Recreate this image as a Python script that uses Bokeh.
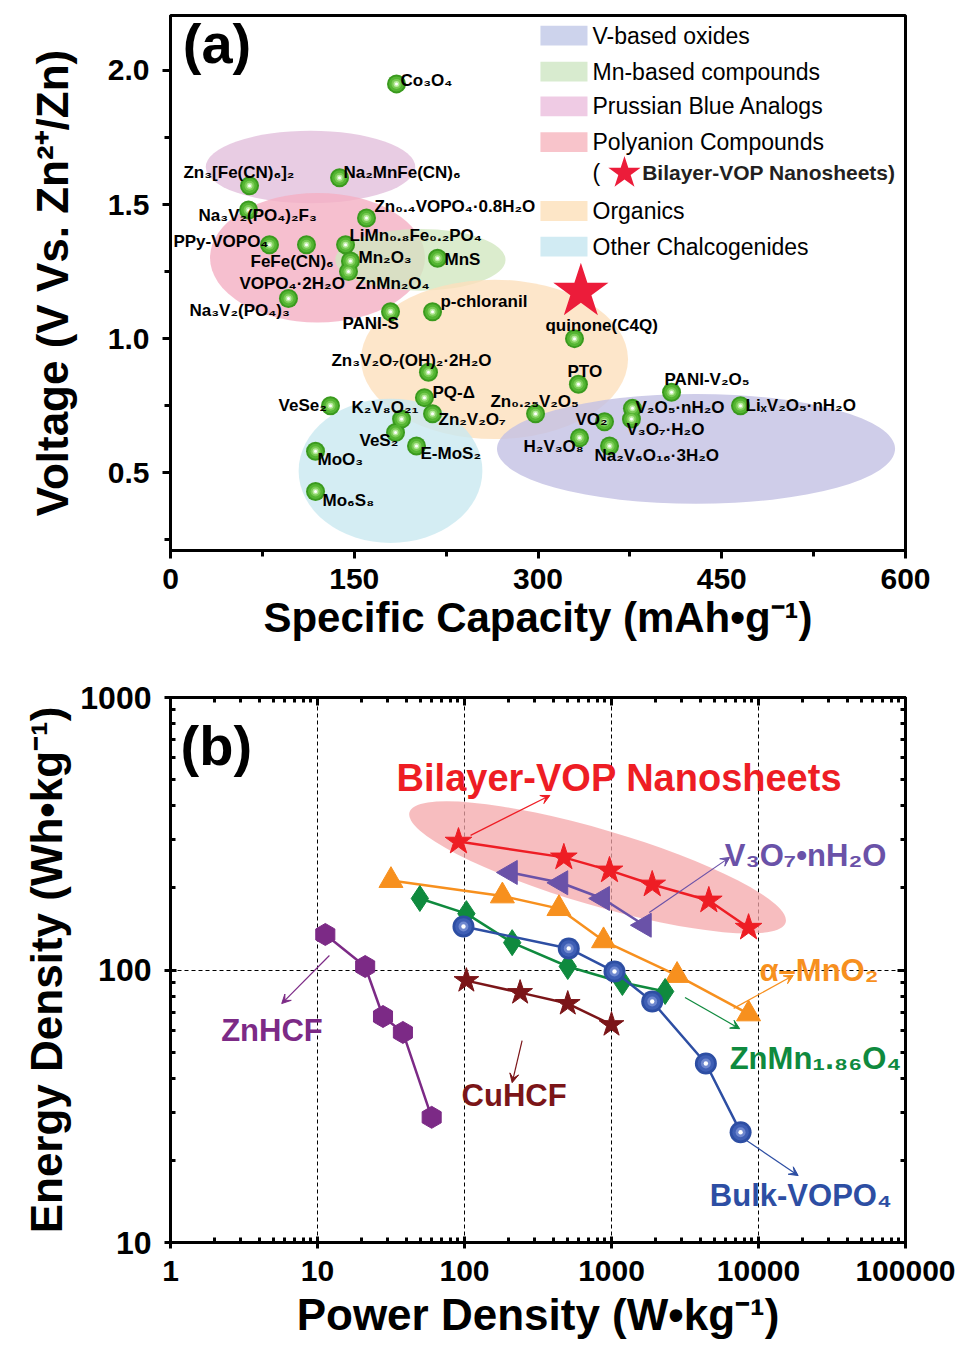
import math
from bokeh.plotting import figure
from bokeh.layouts import column
from bokeh.models import (ColumnDataSource, SingleIntervalTicker, NumeralTickFormatter,
                          LogAxis, FixedTicker, Arrow, VeeHead)
from bokeh.core.properties import value
from bokeh.embed import file_html
from bokeh.resources import INLINE

FB = "Liberation Sans"

# ---------------- Panel (a) data ----------------
cap_mAh_g = [184.5, 64.5, 138, 63.7, 160, 80.8, 111, 142.9, 146.9, 145.3, 218, 96.3, 179.6,
             213.9, 329.8, 210.6, 333, 207.3, 130.6, 188.6, 213.9, 298, 183.7, 200.8, 118.4,
             118.4, 354.3, 333.9, 358.4, 377.1, 376.3, 409, 465.3]
voltage_V = [1.95, 1.57, 1.60, 1.48, 1.45, 1.35, 1.35, 1.35, 1.29, 1.25, 1.30, 1.15, 1.10,
             1.10, 1.00, 0.875, 0.83, 0.78, 0.75, 0.70, 0.72, 0.72, 0.65, 0.60, 0.58,
             0.43, 0.69, 0.63, 0.60, 0.74, 0.70, 0.80, 0.75]
bilayer_cap = [335]
bilayer_volt = [1.175]

label_text = ["Co₃O₄", "Zn₃[Fe(CN)₆]₂", "Na₂MnFe(CN)₆", "Na₃V₂(PO₄)₂F₃",
              "Zn₀.₄VOPO₄·0.8H₂O", "PPy-VOPO₄", "LiMn₀.₈Fe₀.₂PO₄", "FeFe(CN)₆", "Mn₂O₃",
              "MnS", "VOPO₄·2H₂O", "ZnMn₂O₄", "Na₃V₂(PO₄)₃", "p-chloranil", "PANI-S",
              "quinone(C4Q)", "Zn₃V₂O₇(OH)₂·2H₂O", "PTO", "PQ-Δ", "VeSe₂", "K₂V₈O₂₁",
              "Zn₂V₂O₇", "Zn₀.₂₅V₂O₅", "VeS₂", "E-MoS₂", "MoO₃", "Mo₆S₈", "VO₂", "H₂V₃O₈",
              "Na₂V₆O₁₆·3H₂O", "V₂O₅·nH₂O", "V₃O₇·H₂O", "PANI-V₂O₅", "LiₓV₂O₅·nH₂O"]
label_x = [187.8, 10.6, 141.2, 22.9, 166.5, 2.4, 146.1, 65.3, 153.5, 223.7, 56.3, 151, 15.5,
           220.4, 140.4, 306.1, 131.4, 324.1, 213.9, 88.2, 147.8, 218.8, 261.2, 154.3,
           204.1, 120, 124.1, 330.6, 288.2, 346.1, 379.6, 372.2, 403.3, 469.4]
label_y = [1.963, 1.621, 1.621, 1.458, 1.491, 1.361, 1.384, 1.287, 1.302, 1.294, 1.205,
           1.205, 1.105, 1.139, 1.057, 1.049, 0.919, 0.879, 0.801, 0.749, 0.745, 0.697,
           0.767, 0.622, 0.570, 0.548, 0.396, 0.697, 0.596, 0.563, 0.745, 0.663, 0.849,
           0.749]

region_names = ["Prussian Blue Analogs", "Polyanion Compounds", "Mn-based compounds",
                "Organics", "Other Chalcogenides", "V-based oxides"]
region_cap = [114.3, 120, 204, 264.5, 179.6, 429]
region_volt = [1.64, 1.302, 1.294, 0.923, 0.507, 0.589]
region_cap_w = [171, 175.5, 139, 218, 150, 325]
region_volt_h = [0.27, 0.483, 0.23, 0.594, 0.538, 0.41]
region_fill = ["#e2bfdc", "#f4afc3", "#d2e7c0", "#fce0bd", "#c9e8f0", "#c3c1e4"]

legend_names = ["V-based oxides", "Mn-based compounds", "Prussian Blue Analogs",
                "Polyanion Compounds", "Organics", "Other Chalcogenides"]
legend_fill = ["#cdd3ec", "#d8ebcf", "#efcbe4", "#f8c4cb", "#fde6c7", "#d1ebf3"]
legend_row_y = [2.130, 1.996, 1.866, 1.733, 1.476, 1.343]

# ---------------- Panel (b) data ----------------
vop_P = [91, 474, 969, 1892, 4592, 8560]
vop_E = [296, 259, 232, 206, 180, 143]
v3o7_P = [205, 452, 869, 1671]
v3o7_E = [228, 209, 183, 146]
mno2_P = [31.6, 181, 439, 883, 2793, 8560]
mno2_E = [213, 187, 168, 128, 95.5, 69]
znmn_P = [49.7, 103, 211, 504, 1186, 2317]
znmn_E = [183, 161, 126, 103, 90, 83.4]
bulk_P = [98.4, 512, 1048, 1892, 4385, 7555]
bulk_E = [144.5, 120, 98.7, 76.6, 45.4, 25.4]
cuhcf_P = [103, 239, 504, 1000]
cuhcf_E = [91.4, 82.6, 75.3, 63]
znhcf_P = [11.3, 21.1, 27.9, 38.1, 59.8]
znhcf_E = [135, 103, 67.5, 59, 28.8]

x_major = [1, 10, 100, 1000, 10000, 100000]
y_major = [10, 100, 1000]

def minors(decades):
    return [m * d for d in decades[:-1] for m in range(2, 10)]

# ================= Panel (a) =================
p1 = figure(width=968, height=670, x_range=(0, 600), y_range=(0.21, 2.205),
            output_backend="svg", toolbar_location=None,
            min_border_left=167, min_border_right=63, min_border_top=15,
            min_border_bottom=120)
p1.xgrid.visible = False
p1.ygrid.visible = False
p1.outline_line_color = "black"
p1.outline_line_width = 3
p1.outline_line_alpha = 1

p1.xaxis.ticker = SingleIntervalTicker(interval=150, num_minor_ticks=2)
p1.yaxis.ticker = SingleIntervalTicker(interval=0.5, num_minor_ticks=2)
p1.yaxis.formatter = NumeralTickFormatter(format="0.0")
p1.xaxis.axis_label = "Specific Capacity (mAh•g⁻¹)"
p1.yaxis.axis_label = "Voltage (V Vs. Zn²⁺/Zn)"
for ax in (p1.xaxis[0], p1.yaxis[0]):
    ax.axis_line_width = 3
    ax.major_tick_line_width = 3
    ax.minor_tick_line_width = 3
    ax.major_tick_out = 8
    ax.major_tick_in = 0
    ax.minor_tick_out = 6
    ax.minor_tick_in = 0
    ax.major_label_text_font = FB
    ax.major_label_text_font_style = "bold"
    ax.major_label_text_color = "black"
    ax.axis_label_text_font = FB
    ax.axis_label_text_font_style = "bold"
    ax.axis_label_text_color = "black"
p1.xaxis.major_label_text_font_size = "30px"
p1.xaxis.axis_label_text_font_size = "42px"
p1.xaxis.major_label_standoff = 10
p1.xaxis.axis_label_standoff = 2
p1.yaxis.major_label_text_font_size = "30px"
p1.yaxis.axis_label_text_font_size = "44px"
p1.yaxis.major_label_standoff = 13
p1.yaxis.axis_label_standoff = 28

rsrc = ColumnDataSource(dict(x=region_cap, y=region_volt, w=region_cap_w,
                             h=region_volt_h, c=region_fill, n=region_names))
p1.ellipse(x="x", y="y", width="w", height="h", fill_color="c", fill_alpha=0.8,
           line_color=None, source=rsrc)

pts = ColumnDataSource(dict(x=cap_mAh_g, y=voltage_V))
for s, col in [(19, "#3a9a1e"), (15, "#54b532"), (10, "#7acb55"), (6, "#b8eb9e"), (3, "#ffffff")]:
    p1.scatter(x="x", y="y", size=s, fill_color=col, line_color=None, source=pts)

p1.scatter(x=bilayer_cap, y=bilayer_volt, marker="star", size=58, fill_color="#ec1c3a",
           line_color=None)

p1.text(x=label_x, y=label_y, text=label_text, text_font=value(FB), text_font_style="bold",
        text_font_size="17px", text_baseline="middle", text_align="left", text_color="black")

sw_x = [321.2] * len(legend_names)
p1.rect(x=sw_x, y=legend_row_y, width=38.4, height=0.074, fill_color=legend_fill,
        line_color=None)
p1.text(x=[344.5] * len(legend_names), y=legend_row_y, text=legend_names,
        text_font=value(FB), text_font_size="23px", text_baseline="middle",
        text_color="black")
p1.text(x=[344.5], y=[1.618], text=["("], text_font=value(FB), text_font_size="23px",
        text_baseline="middle", text_color="black")
p1.scatter(x=[370.6], y=[1.618], marker="star", size=34, fill_color="#ec1c3a", line_color=None)
p1.text(x=[385.0], y=[1.618], text=["Bilayer-VOP Nanosheets)"], text_font=value(FB),
        text_font_style="bold", text_font_size="21px", text_baseline="middle",
        text_color="#231f20")
p1.text(x=[10], y=[2.1], text=["(a)"], text_font=value(FB), text_font_style="bold",
        text_font_size="56px", text_baseline="middle", text_color="black")

# ================= Panel (b) =================
p2 = figure(width=968, height=684, x_axis_type="log", y_axis_type="log",
            x_range=(1, 1e5), y_range=(10, 1000), output_backend="svg",
            toolbar_location=None, min_border_left=170, min_border_right=58,
            min_border_top=27, min_border_bottom=112)
p2.outline_line_color = "black"
p2.outline_line_width = 3
p2.outline_line_alpha = 1
p2.xgrid.ticker = FixedTicker(ticks=[10, 100, 1000, 10000])
p2.ygrid.ticker = FixedTicker(ticks=[100])
for g in (p2.xgrid[0], p2.ygrid[0]):
    g.grid_line_color = "black"
    g.grid_line_dash = "4 3"
    g.grid_line_width = 1
    g.grid_line_alpha = 1
    g.minor_grid_line_color = None

p2.xaxis.axis_label = "Power Density (W•kg⁻¹)"
p2.yaxis.axis_label = "Energy Density (Wh•kg⁻¹)"
p2.xaxis.ticker = FixedTicker(ticks=x_major, minor_ticks=minors(x_major))
p2.yaxis.ticker = FixedTicker(ticks=y_major, minor_ticks=minors(y_major))
p2.xaxis.formatter = NumeralTickFormatter(format="0")
p2.yaxis.formatter = NumeralTickFormatter(format="0")
for ax in (p2.xaxis[0], p2.yaxis[0]):
    ax.axis_line_width = 3
    ax.major_tick_line_width = 3
    ax.minor_tick_line_width = 3
    ax.major_tick_out = 6
    ax.major_tick_in = 6
    ax.minor_tick_out = 0
    ax.minor_tick_in = 5
    ax.major_label_text_font = FB
    ax.major_label_text_font_style = "bold"
    ax.major_label_text_color = "black"
    ax.axis_label_text_font = FB
    ax.axis_label_text_font_style = "bold"
    ax.axis_label_text_color = "black"
    ax.axis_label_text_font_size = "44px"
p2.xaxis.major_label_text_font_size = "30px"
p2.xaxis.major_label_standoff = 12
p2.xaxis.axis_label_standoff = 6
p2.yaxis.major_label_text_font_size = "32px"
p2.yaxis.major_label_standoff = 13
p2.yaxis.axis_label_standoff = 6

for loc, maj in (("above", x_major), ("right", y_major)):
    ax = LogAxis(ticker=FixedTicker(ticks=maj, minor_ticks=minors(maj)),
                 major_label_text_font_size="0px",
                 major_label_standoff=0, axis_line_width=3, major_tick_line_width=3,
                 minor_tick_line_width=3, major_tick_out=0, major_tick_in=8,
                 minor_tick_out=0, minor_tick_in=5)
    ax.major_label_text_color = None
    p2.add_layout(ax, loc)

p2.ellipse(x=[804], y=[238], width=392, height=76, angle=-0.285, width_units="screen",
           height_units="screen", fill_color="#f4a7aa", fill_alpha=0.75, line_color=None)

def series(P, E, color, marker, size, angle=0.0, sphere=False):
    p2.line(P, E, line_color=color, line_width=2.5)
    if sphere:
        for s, col in [(size, color), (size * 0.75, "#3f5fb5"), (size * 0.45, "#6f88cf"),
                       (size * 0.2, "#ffffff")]:
            p2.scatter(P, E, size=s, fill_color=col, line_color=None)
    else:
        p2.scatter(P, E, marker=marker, size=size, angle=angle, fill_color=color,
                   line_color=color)

series(mno2_P, mno2_E, "#f7901e", "triangle", 24)
series(znmn_P, znmn_E, "#0f8a3e", "diamond", 26)
series(bulk_P, bulk_E, "#2d4ea3", "circle", 22, sphere=True)
series(cuhcf_P, cuhcf_E, "#7b1518", "star", 26)
series(znhcf_P, znhcf_E, "#7c2a86", "hex", 22, angle=math.pi / 2)
series(v3o7_P, v3o7_E, "#6a52a8", "triangle", 24, angle=math.pi / 2)
series(vop_P, vop_E, "#ee1d24", "star", 28)

arrows = [
    (110, 312, 381, 437, "#ee1d24"),
    (1806, 162.5, 6368, 259, "#6a52a8"),
    (6776, 72.3, 17230, 95.5, "#f7901e"),
    (3162, 79.3, 7447, 60.9, "#0f8a3e"),
    (8296, 23.7, 18620, 17.6, "#2d4ea3"),
    (246.5, 55.1, 211, 38.6, "#7b1518"),
    (12.05, 113, 5.71, 75.3, "#7c2a86"),
]
for xs, ys, xe, ye, c in arrows:
    p2.add_layout(Arrow(end=VeeHead(size=9, fill_color=c, line_color=c, line_width=1),
                        x_start=xs, y_start=ys, x_end=xe, y_end=ye,
                        line_color=c, line_width=1.2))

def lab(x, y, t, c, size="31px", align="left"):
    p2.text(x=[x], y=[y], text=[t], text_font=value(FB), text_font_style="bold",
            text_font_size=size, text_color=c, text_baseline="middle", text_align=align)

lab(1132, 505, "Bilayer-VOP Nanosheets", "#ee1d24", size="38px", align="center")
lab(5893, 263, "V₃O₇•nH₂O", "#6a52a8")
lab(10160, 99.6, "α–MnO₂", "#f7901e")
lab(6368, 47.3, "ZnMn₁.₈₆O₄", "#0f8a3e")
lab(4667, 14.9, "Bulk-VOPO₄", "#2d4ea3")
lab(95.5, 34.6, "CuHCF", "#7b1518")
lab(2.21, 60, "ZnHCF", "#7c2a86")
lab(1.17, 667, "(b)", "black", size="56px")

layout = column(p1, p2, spacing=0)
open("out.html", "w").write(file_html(layout, INLINE))
